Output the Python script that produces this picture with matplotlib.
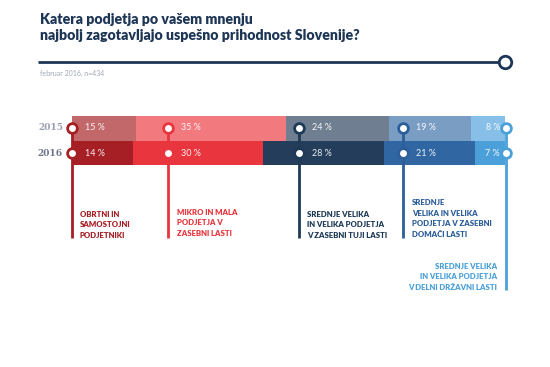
import matplotlib
matplotlib.use("Agg")
import matplotlib.pyplot as plt
import numpy as np

years = ["2015", "2016"]
values_2015 = [15, 35, 24, 19, 8]
values_2016 = [14, 30, 28, 21, 7]
categories = [
    "OBRTNI IN\nSAMOSTOJNI\nPODJETNIKI",
    "MIKRO IN MALA\nPODJETJA V\nZASEBNI LASTI",
    "SREDNJE VELIKA\nIN VELIKA PODJETJA\nV ZASEBNI TUJI LASTI",
    "SREDNJE\nVELIKA IN VELIKA\nPODJETJA V ZASEBNI\nDOMAČI LASTI",
    "SREDNJE VELIKA\nIN VELIKA PODJETJA\nV DELNI DRŽAVNI LASTI",
]
title = "Katera podjetja po vašem mnenju\nnajbolj zagotavljajo uspešno prihodnost Slovenije?"
subtitle = "februar 2016, n=434"

colors_2015 = ["#c2686b", "#f27a7e", "#6f7f91", "#7a9dc4", "#87bfe8"]
colors_2016 = ["#a51f25", "#e9363e", "#233d5a", "#3066a1", "#4ba0d9"]
line_colors = ["#a51f25", "#e9363e", "#1f3a57", "#2c5f99", "#4ba0d9"]
NAVY = "#1e3656"

W, H = 550, 367
fig = plt.figure(figsize=(5.5, 3.67), dpi=100)
fig.patch.set_facecolor("white")

# bar axes (pixel layout)
bx0, bx1, by0, by1 = 72, 505, 116, 165
axb = fig.add_axes([bx0 / W, 1 - by1 / H, (bx1 - bx0) / W, (by1 - by0) / H])
rows = [(values_2015, colors_2015, 1), (values_2016, colors_2016, 0)]
for vals, cols, y in rows:
    v = np.array(vals, float)
    frac = v / v.sum()
    left = np.concatenate([[0], np.cumsum(frac)[:-1]])
    axb.barh([y] * len(v), frac, left=left, color=cols, height=1.0, linewidth=0)
axb.set_xlim(0, 1)
axb.set_ylim(-0.5, 1.5)
axb.axis("off")

# overlay axes in pixel coords
ax = fig.add_axes([0, 0, 1, 1], facecolor="none")
ax.set_xlim(0, W)
ax.set_ylim(H, 0)
ax.axis("off")

sans = ["Lato", "DejaVu Sans"]

ax.text(40, 40, title, fontsize=10.2, fontweight="heavy", color=NAVY,
        family=sans, va="baseline", linespacing=1.25)
ax.plot([38, 500], [62, 62], color=NAVY, lw=2, solid_capstyle="butt")
ax.plot([505], [62], marker="o", ms=9, mfc="white", mec=NAVY, mew=2)
ax.text(40, 76, subtitle, fontsize=5, color="#a3a7b8", family=sans, va="baseline")

# year labels
year_y = [128, 153]
year_cols = ["#9a9db1", "#6e7389"]
for yl, yy, yc in zip(years, year_y, year_cols):
    ax.text(63, yy, yl, fontsize=6.5, fontweight="bold", color=yc,
            family=["DejaVu Serif"], ha="right", va="center")

# markers, drop lines, labels
marker_x = [72, 168, 299, 403, 506]
line_bottom = [238, 238, 238, 238, 290]
for mx, lb, lc in zip(marker_x, line_bottom, line_colors):
    ax.plot([mx, mx], [128, lb], color=lc, lw=2, solid_capstyle="butt", zorder=3)
    for yy in year_y:
        ax.plot([mx], [yy], marker="o", ms=7, mfc="white", mec=lc, mew=2, zorder=4)

# percent labels
for vals, yy in zip([values_2015, values_2016], year_y):
    for i, v in enumerate(vals):
        if i < 4:
            ax.text(marker_x[i] + 13, yy, f"{v} %", fontsize=6.5, color="white",
                    alpha=0.92, family=sans, ha="left", va="center", zorder=5)
        else:
            ax.text(marker_x[i] - 6, yy, f"{v} %", fontsize=6.5, color="white",
                    alpha=0.92, family=sans, ha="right", va="center", zorder=5)

label_pos = [(80, 239, "left"), (177, 237, "left"), (307, 239, "left"),
             (412, 238, "left"), (497, 291, "right")]
for (lx, ly, ha), txt, lc in zip(label_pos, categories, line_colors):
    ax.text(lx, ly, txt, fontsize=5.6, fontweight="heavy", color=lc, family=sans,
            ha=ha, va="bottom", linespacing=1.62, multialignment=ha)

fig.savefig("out.png", dpi=100, facecolor="white")
